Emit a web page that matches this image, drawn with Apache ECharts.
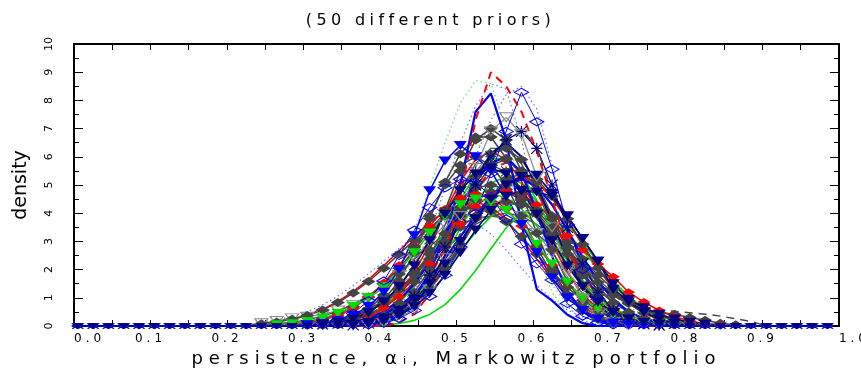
<!DOCTYPE html>
<html><head><meta charset="utf-8">
<script src="https://cdn.jsdelivr.net/npm/echarts/dist/echarts.min.js"></script>
<style>html,body{margin:0;padding:0;background:#fff}#c{width:861px;height:376px}</style>
</head><body><div id="c"></div>
<script>
// wide letter spacing like the original plotting font (by font size)
(function(){
  const P = CanvasRenderingContext2D.prototype;
  const orig = P.fillText;
  const SP = {'16':'4.4px','18':'6px','12':'4px'};
  P.fillText = function(t,x,y,w){
    if ('letterSpacing' in this) {
      const m = /(\d+(?:\.\d+)?)px/.exec(this.font);
      const s = m && SP[String(parseFloat(m[1]))];
      const prev = this.letterSpacing;
      this.letterSpacing = s || '0px';
      const r = (w === undefined) ? orig.call(this,t,x,y) : orig.call(this,t,x,y,w);
      this.letterSpacing = prev;
      return r;
    }
    return (w === undefined) ? orig.call(this,t,x,y) : orig.call(this,t,x,y,w);
  };
})();

// ---------------- data ----------------
const titleText = '(50 different priors)';
const xName = 'persistence, \u03b1\u1d62, Markowitz portfolio';
const yName = 'density';

// x grid: zero-density tails and the window where densities are non-zero
const xLeftTail = [0.005,0.025,0.045,0.065,0.085,0.105,0.125,0.145,0.165,0.185,0.205,0.225];
const xWindow = [0.245,0.265,0.285,0.305,0.325,0.345,0.365,0.385,0.405,0.425,0.445,0.465,0.485,0.505,0.525,0.545,0.565,0.585,0.605,0.625,0.645,0.665,0.685,0.705,0.725,0.745,0.765,0.785,0.805,0.825,0.845,0.865,0.885];
const xRightTail = [0.905,0.925,0.945,0.965,0.985];

// density values on xWindow, one array per prior
const dotB1 = [0,0,0,0,0,0.04,0.12,0.28,0.6,1.2,2.1,3.3,4.9,6.5,7.8,8.6,8.4,6.6,4.0,1.9,0.7,0.2,0.04,0,0,0,0,0,0,0,0,0,0];
const dotG1 = [0,0,0,0,0.04,0.12,0.28,0.6,1.2,2.1,3.4,4.9,6.5,7.9,8.7,8.6,7.0,4.7,2.6,1.2,0.44,0.13,0.04,0,0,0,0,0,0,0,0,0,0];
const dotB2 = [0,0,0,0,0,0,0.08,0.18,0.37,0.72,1.3,2.1,3.2,4.6,6.0,7.3,8.2,8.5,7.7,5.7,3.5,1.75,0.72,0.25,0.07,0,0,0,0,0,0,0,0];
const dotG2 = [0,0,0,0,0.06,0.12,0.22,0.4,0.68,1.1,1.6,2.3,3.0,3.8,4.4,4.85,5.0,4.85,4.4,3.8,3.0,2.3,1.6,1.1,0.68,0.4,0.22,0.12,0.06,0,0,0,0];
const dotB3 = [0.13,0.21,0.34,0.51,0.75,1.06,1.43,1.85,2.3,2.75,3.2,3.5,3.7,3.8,3.65,3.26,2.7,2.05,1.45,0.95,0.57,0.32,0.17,0.08,0.03,0,0,0,0,0,0,0,0];
const dotG3 = [0,0,0,0,0,0.05,0.14,0.35,0.76,1.47,2.5,3.8,5.1,6.1,6.5,6.1,5.1,3.8,2.5,1.47,0.76,0.35,0.14,0.05,0,0,0,0,0,0,0,0,0];
const dd1 = [0,0,0,0,0.03,0.1,0.22,0.47,0.92,1.6,2.6,3.8,5.1,6.1,6.7,6.7,5.95,4.7,3.3,2.0,1.12,0.55,0.24,0.09,0.03,0,0,0,0,0,0,0,0];
const dd2 = [0,0,0,0,0,0,0.05,0.13,0.3,0.6,1.1,1.8,2.8,3.9,4.9,5.7,5.9,5.5,4.8,3.8,2.8,1.9,1.1,0.6,0.3,0.13,0.05,0,0,0,0,0,0];
const dd3 = [0,0.04,0.08,0.15,0.25,0.43,0.68,1.03,1.5,2.05,2.7,3.4,4.0,4.5,4.9,5.0,4.85,4.5,4.0,3.4,2.75,2.1,1.55,1.1,0.8,0.6,0.48,0.42,0.3,0.2,0.1,0.04,0];
const dd4 = [0,0,0,0,0,0,0.06,0.15,0.32,0.65,1.2,2.0,3.0,4.2,5.3,6.1,6.3,5.9,5.1,3.9,2.8,1.8,1.1,0.6,0.28,0.12,0.05,0,0,0,0,0,0];
const dd5 = [0,0,0.035,0.07,0.13,0.22,0.37,0.6,0.9,1.31,1.8,2.38,2.97,3.5,3.9,4.3,4.4,4.3,4.1,3.5,2.97,2.38,1.8,1.31,0.9,0.6,0.37,0.22,0.13,0.07,0.035,0,0];
const dd6 = [0,0,0,0,0,0,0.05,0.11,0.24,0.46,0.82,1.34,2.06,2.9,3.8,4.6,5.2,5.4,5.2,4.6,3.8,2.9,2.06,1.34,0.82,0.46,0.24,0.11,0.05,0,0,0,0];
const dd7 = [0,0,0,0,0.05,0.13,0.29,0.59,1.1,1.84,2.8,3.9,5.0,5.7,6.0,5.7,5.0,3.9,2.8,1.84,1.1,0.59,0.29,0.13,0.05,0,0,0,0,0,0,0,0];
const dd8 = [0,0,0,0,0.08,0.15,0.28,0.5,0.83,1.28,1.87,2.55,3.27,3.95,4.47,4.76,4.76,4.47,3.95,3.27,2.55,1.87,1.28,0.83,0.5,0.28,0.15,0.08,0,0,0,0,0];
const dd9 = [0,0,0,0,0,0,0.06,0.15,0.38,0.82,1.58,2.7,4.1,5.5,6.6,7.0,6.6,5.5,4.1,2.7,1.58,0.82,0.38,0.15,0.06,0,0,0,0,0,0,0,0];
const dd10 = [0.08,0.14,0.24,0.37,0.57,0.83,1.17,1.58,2.05,2.55,3.05,3.5,3.9,4.1,4.2,4.07,3.7,3.17,2.55,1.92,1.37,0.91,0.57,0.34,0.18,0.1,0.05,0,0,0,0,0,0];
const dg1 = [0,0,0,0,0,0.05,0.12,0.25,0.48,0.85,1.39,2.13,3.0,3.96,4.8,5.4,5.6,5.4,4.8,3.96,3.0,2.13,1.39,0.85,0.48,0.25,0.12,0.05,0,0,0,0,0];
const dg2 = [0.04,0.08,0.13,0.22,0.35,0.53,0.77,1.08,1.46,1.9,2.37,2.83,3.26,3.6,3.82,3.9,3.82,3.6,3.26,2.83,2.37,1.9,1.46,1.08,0.77,0.53,0.35,0.22,0.13,0.08,0.04,0,0];
const dg3 = [0,0,0,0,0,0.03,0.09,0.2,0.44,0.86,1.52,2.45,3.58,4.76,5.75,6.3,6.3,5.75,4.76,3.58,2.45,1.52,0.86,0.44,0.2,0.09,0.03,0,0,0,0,0,0];
const dg4 = [0,0,0,0.06,0.12,0.2,0.34,0.54,0.82,1.19,1.64,2.16,2.7,3.2,3.6,3.9,4.0,3.9,3.6,3.2,2.7,2.16,1.64,1.19,0.82,0.54,0.34,0.2,0.12,0.06,0,0,0];
const dg5 = [0,0,0,0,0,0,0.05,0.11,0.23,0.44,0.79,1.29,1.98,2.8,3.68,4.46,5.0,5.2,4.96,4.3,3.4,2.44,1.59,0.95,0.51,0.25,0.11,0.05,0,0,0,0,0];
const ddash1 = [0,0,0,0,0.04,0.1,0.2,0.39,0.69,1.15,1.75,2.48,3.25,3.94,4.43,4.6,4.5,4.2,3.8,3.25,2.65,2.05,1.55,1.12,0.85,0.68,0.58,0.52,0.47,0.42,0.35,0.26,0.16];
const ddash2 = [0,0,0,0,0,0,0,0.06,0.15,0.34,0.69,1.27,2.14,3.28,4.57,5.8,6.7,7.0,6.34,4.72,2.88,1.44,0.6,0.2,0.06,0,0,0,0,0,0,0,0];
const rdash1 = [0,0,0,0,0,0,0,0,0,0.12,0.42,1.15,2.6,4.6,7.3,9.0,8.5,7.6,6.2,4.5,2.8,1.5,0.7,0.28,0.09,0,0,0,0,0,0,0,0];
const rdash2 = [0,0,0,0,0,0,0.05,0.13,0.28,0.57,1.06,1.77,2.72,3.79,4.8,5.53,5.8,5.53,4.8,3.79,2.72,1.77,1.06,0.57,0.28,0.13,0.05,0,0,0,0,0,0];
const rd1 = [0,0,0,0,0.05,0.11,0.21,0.38,0.65,1.04,1.56,2.2,2.9,3.62,4.24,4.65,4.8,4.65,4.3,3.8,3.2,2.7,2.2,1.75,1.2,0.85,0.55,0.33,0.18,0.08,0.03,0,0];
const rd2 = [0,0,0.05,0.11,0.21,0.37,0.63,1.02,1.53,2.15,2.85,3.55,4.15,4.55,4.7,4.55,4.15,3.55,2.85,2.15,1.53,1.02,0.63,0.37,0.21,0.11,0.05,0,0,0,0,0,0];
const r1 = [0,0,0,0,0,0.06,0.14,0.3,0.61,1.13,1.9,2.9,4.05,5.13,5.9,6.2,5.9,5.13,4.05,2.9,1.9,1.13,0.61,0.3,0.14,0.06,0,0,0,0,0,0,0];
const r2 = [0,0,0,0,0,0,0.05,0.11,0.23,0.45,0.8,1.32,2.02,2.86,3.75,4.54,5.1,5.3,5.1,4.54,3.75,2.86,2.02,1.32,0.8,0.45,0.23,0.11,0.05,0,0,0,0];
const r3 = [0.09,0.15,0.25,0.39,0.59,0.87,1.22,1.65,2.14,2.67,3.19,3.67,4.06,4.31,4.4,4.23,3.77,3.11,2.37,1.68,1.1,0.66,0.37,0.19,0.09,0.04,0,0,0,0,0,0,0];
const gt1 = [0,0.04,0.08,0.16,0.28,0.45,0.7,1.0,1.4,2.0,2.6,3.3,3.9,4.3,4.5,4.4,4.1,3.6,2.9,2.2,1.55,1.0,0.6,0.33,0.17,0.08,0.03,0,0,0,0,0,0];
const g1 = [0,0,0,0,0,0.05,0.1,0.19,0.35,0.59,0.95,1.43,2.02,2.67,3.32,3.88,4.26,4.4,4.26,3.88,3.32,2.67,2.02,1.43,0.95,0.59,0.35,0.19,0.1,0.05,0,0,0];
const g2 = [0,0,0,0,0,0,0.05,0.12,0.25,0.52,0.96,1.62,2.49,3.46,4.39,5.06,5.3,5.06,4.39,3.46,2.49,1.62,0.96,0.52,0.25,0.12,0.05,0,0,0,0,0,0];
const g3 = [0,0,0,0,0.04,0.1,0.21,0.4,0.71,1.17,1.79,2.53,3.32,4.03,4.52,4.7,4.55,4.15,3.55,2.85,2.15,1.53,1.02,0.63,0.37,0.21,0.11,0.05,0,0,0,0,0];
const g4 = [0,0,0,0,0,0.03,0.08,0.19,0.41,0.81,1.43,2.3,3.36,4.46,5.39,5.93,5.93,5.39,4.46,3.36,2.3,1.43,0.81,0.41,0.19,0.08,0.03,0,0,0,0,0,0];
const g5 = [0,0,0,0,0,0,0,0,0.04,0.09,0.2,0.41,0.76,1.29,1.97,2.74,3.48,4.0,4.2,4.04,3.6,2.97,2.26,1.6,1.05,0.63,0.36,0.18,0.09,0.04,0,0,0];
const b1 = [0,0,0,0,0,0,0,0.06,0.18,0.45,1.0,1.9,3.2,5.0,7.6,8.25,6.6,3.6,1.3,0.9,0.4,0.1,0,0,0,0,0,0,0,0,0,0,0];
const bt1 = [0,0,0,0.04,0.09,0.19,0.38,0.7,1.2,2.0,3.2,4.8,5.85,6.4,6.0,5.5,4.6,3.6,2.6,1.7,1.0,0.55,0.25,0.1,0.04,0,0,0,0,0,0,0,0];
const bd1 = [0,0,0,0,0,0,0,0.04,0.1,0.26,0.55,1.05,1.8,2.8,4.0,5.4,6.9,8.29,7.24,5.56,3.6,2.0,0.95,0.4,0.15,0.05,0,0,0,0,0,0,0];
const bd2 = [0,0,0,0.03,0.08,0.2,0.45,0.9,1.6,2.5,3.4,4.2,4.9,5.2,5.1,4.6,3.8,2.9,2.2,1.63,0.8,0.35,0.12,0.04,0,0,0,0,0,0,0,0,0];
const b2 = [0,0,0,0,0,0.05,0.13,0.26,0.51,0.91,1.49,2.29,3.23,4.24,5.14,5.77,6.0,5.44,4.04,2.47,1.24,0.51,0.17,0.05,0,0,0,0,0,0,0,0,0];
const b3 = [0,0,0,0,0,0.06,0.12,0.23,0.42,0.7,1.12,1.69,2.38,3.16,3.93,4.59,5.04,5.2,4.96,4.3,3.4,2.44,1.59,0.95,0.51,0.25,0.11,0.05,0,0,0,0,0];
const nt1 = [0,0,0,0,0,0,0.05,0.13,0.28,0.55,0.95,1.5,2.2,3.0,3.8,4.5,5.0,5.3,5.35,4.7,3.9,3.1,2.3,1.3,0.86,0.5,0.25,0.1,0,0,0,0,0];
const nt2 = [0,0,0,0,0.05,0.12,0.25,0.48,0.85,1.39,2.13,3.02,3.96,4.8,5.39,5.6,5.39,4.8,3.96,3.02,2.13,1.39,0.85,0.48,0.25,0.12,0.05,0,0,0,0,0,0];
const nt3 = [0,0,0,0,0,0,0.03,0.08,0.18,0.37,0.68,1.15,1.8,2.6,3.4,4.1,4.6,4.8,4.75,4.6,3.9,3.1,2.3,1.5,0.95,0.65,0.42,0.25,0.13,0.06,0,0,0];
const nt4 = [0,0,0,0,0,0,0,0.05,0.14,0.35,0.76,1.47,2.51,3.8,5.12,6.12,6.5,6.0,5.0,3.7,2.4,1.4,0.72,0.33,0.13,0.05,0,0,0,0,0,0,0];
const nx1 = [0,0,0,0,0,0,0.04,0.1,0.26,0.55,1.05,1.8,2.8,3.9,5.0,6.0,6.6,6.9,6.3,5.0,3.5,2.2,1.2,0.55,0.22,0.08,0.03,0,0,0,0,0,0];
const nx2 = [0,0,0,0,0.05,0.12,0.25,0.48,0.86,1.42,2.17,3.07,4.03,4.88,5.48,5.7,5.48,4.88,4.03,3.07,2.17,1.42,0.86,0.48,0.25,0.12,0.05,0,0,0,0,0,0];
const gto1 = [0,0,0,0,0,0,0,0.03,0.1,0.26,0.62,1.3,2.4,3.9,5.6,6.9,7.4,6.8,5.3,3.5,2.0,0.95,0.4,0.14,0.04,0,0,0,0,0,0,0,0];
const gto2 = [0.1,0.18,0.27,0.33,0.41,0.55,0.75,1.0,1.35,1.8,2.4,3.0,3.6,4.1,4.4,4.5,4.3,3.9,3.3,2.6,1.9,1.3,0.8,0.45,0.22,0.1,0.04,0,0,0,0,0,0];

// ---------------- styles (kept apart from the data) ----------------
const NAVY = '#000080', BLUE = '#0000ff', RED = '#ff0000', GREEN = '#00dd00', DGRAY = '#444444';
const STAR = 'path://M0,0L10,10M10,0L0,10M5,0L5,10M0,5L10,5';
const STY = {
  dotB:  {line: '#6f6fff', type: [1.5, 3], width: 1.2, symbol: 'none'},
  dotG:  {line: '#66e066', type: [1.5, 3], width: 1.2, symbol: 'none'},
  dd:    {line: DGRAY, type: 'solid', width: 1.5, symbol: 'diamond', size: [14, 9], fill: DGRAY},
  dg:    {line: '#505050', type: 'solid', width: 1.4, symbol: 'none'},
  ddash: {line: DGRAY, type: [8, 6], width: 1.5, symbol: 'none'},
  rdash: {line: RED, type: [8, 6], width: 2, symbol: 'none'},
  rd:    {line: RED, type: 'solid', width: 1.5, symbol: 'diamond', size: [13, 8], fill: RED},
  r:     {line: RED, type: 'solid', width: 1.6, symbol: 'none'},
  gt:    {line: GREEN, type: 'solid', width: 1.5, symbol: 'triangle', size: [13, 9], rot: 180, fill: GREEN},
  g:     {line: GREEN, type: 'solid', width: 1.6, symbol: 'none'},
  b:     {line: BLUE, type: 'solid', width: 2.2, symbol: 'none'},
  bt:    {line: BLUE, type: 'solid', width: 1.5, symbol: 'triangle', size: [13, 9], rot: 180, fill: BLUE},
  bd:    {line: BLUE, type: 'solid', width: 1, symbol: 'diamond', size: [14, 8], stroke: BLUE, fill: 'none'},
  nt:    {line: NAVY, type: 'solid', width: 1.6, symbol: 'triangle', size: [13, 9], rot: 180, fill: NAVY},
  n:     {line: NAVY, type: 'solid', width: 2, symbol: 'none'},
  nx:    {line: NAVY, type: 'solid', width: 1.2, symbol: STAR, size: 11, stroke: NAVY, fill: 'none'},
  kx:    {line: '#303030', type: 'solid', width: 1.2, symbol: STAR, size: 10, stroke: '#303030', fill: 'none'},
  gto:   {line: '#8a8a8a', type: 'solid', width: 1.2, symbol: 'triangle', size: [13, 9], rot: 180, stroke: '#8a8a8a', fill: 'none'}
};
const BASE_SYMBOL = [11, 5];   // markers sitting on the zero line look half-hidden in the original

// drawing order (first drawn at the bottom)
const layers = [
  ['dotB3', dotB3, 'dotB'], ['dotG2', dotG2, 'dotG'], ['dotB1', dotB1, 'dotB'], ['dotG1', dotG1, 'dotG'],
  ['dotB2', dotB2, 'dotB'], ['dotG3', dotG3, 'dotG'], ['gto2', gto2, 'gto'], ['dg2', dg2, 'dg'],
  ['dg4', dg4, 'dg'], ['g1', g1, 'g'], ['g5', g5, 'g'], ['r3', r3, 'r'], ['dg1', dg1, 'dg'],
  ['g3', g3, 'g'], ['r2', r2, 'r'], ['dd5', dd5, 'dd'], ['dd10', dd10, 'dd'], ['dd8', dd8, 'dd'],
  ['dd3', dd3, 'dd'], ['rd2', rd2, 'rd'], ['rd1', rd1, 'rd'], ['ddash1', ddash1, 'ddash'],
  ['g2', g2, 'g'], ['g4', g4, 'g'], ['r1', r1, 'r'], ['dg3', dg3, 'dg'], ['dg5', dg5, 'dg'],
  ['dd1', dd1, 'dd'], ['dd2', dd2, 'dd'], ['dd4', dd4, 'dd'], ['dd6', dd6, 'dd'], ['dd7', dd7, 'dd'],
  ['dd9', dd9, 'dd'], ['rdash2', rdash2, 'rdash'], ['gt1', gt1, 'gt'], ['bd2', bd2, 'bd'],
  ['b3', b3, 'b'], ['b2', b2, 'b'], ['nx2', nx2, 'kx'], ['nx1', nx1, 'nx'], ['ddash2', ddash2, 'ddash'],
  ['gto1', gto1, 'gto'], ['bd1', bd1, 'bd'], ['bt1', bt1, 'bt'], ['b1', b1, 'b'], ['rdash1', rdash1, 'rdash'],
  ['nt4', nt4, 'n'], ['nt1', nt1, 'nt'], ['nt3', nt3, 'nt'], ['nt2', nt2, 'nt']
];

function buildData(vals) {
  return xLeftTail.map(x => [x, 0])
    .concat(xWindow.map((x, i) => [x, vals[i]]))
    .concat(xRightTail.map(x => [x, 0]));
}

const series = layers.map(([name, vals, key]) => {
  const s = STY[key];
  const full = s.size || 8;
  return {
    type: 'line', name, data: buildData(vals),
    symbol: s.symbol, showSymbol: s.symbol !== 'none',
    symbolSize: v => (v[1] > 0 ? full : BASE_SYMBOL), symbolRotate: s.rot || 0,
    lineStyle: {color: s.line, width: s.width, type: s.type},
    itemStyle: {color: s.fill || s.line, borderColor: s.stroke || s.line, borderWidth: s.stroke ? 1.1 : 0},
    emphasis: {disabled: true}, silent: true, animation: false, clip: true
  };
});

const AX = {color: '#000', width: 2};
const FONT = "'DejaVu Sans', sans-serif";
const option = {
  backgroundColor: '#fff',
  animation: false,
  title: {text: titleText, left: 'center', top: 8,
    textStyle: {fontFamily: FONT, fontSize: 16, fontWeight: 'normal', color: '#000'}},
  grid: {left: 74, right: 17, top: 44, bottom: 50, containLabel: false},
  xAxis: [
    {type: 'value', min: 0, max: 1, interval: 0.1, position: 'bottom',
     axisLine: {show: true, onZero: false, lineStyle: AX},
     axisTick: {show: true, inside: true, length: 6, lineStyle: {color: '#000', width: 1}},
     minorTick: {show: true, splitNumber: 2, length: 6, lineStyle: {color: '#000', width: 1}},
     splitLine: {show: false}, minorSplitLine: {show: false},
     axisLabel: {color: '#000', fontFamily: FONT, fontSize: 12, margin: 7,
       formatter: v => v.toFixed(1), alignMinLabel: 'left', alignMaxLabel: 'left'},
     name: xName, nameLocation: 'middle', nameGap: 24,
     nameTextStyle: {color: '#000', fontFamily: FONT, fontSize: 18}},
    {type: 'value', min: 0, max: 1, interval: 0.1, position: 'top',
     axisLine: {show: true, onZero: false, lineStyle: AX},
     axisTick: {show: true, inside: true, length: 6, lineStyle: {color: '#000', width: 1}},
     minorTick: {show: true, splitNumber: 2, length: 6, lineStyle: {color: '#000', width: 1}},
     splitLine: {show: false}, axisLabel: {show: false}}
  ],
  yAxis: [
    {type: 'value', min: 0, max: 10, interval: 1, position: 'left',
     axisLine: {show: true, onZero: false, lineStyle: AX},
     axisTick: {show: true, inside: true, length: 9, lineStyle: {color: '#000', width: 1}},
     minorTick: {show: true, splitNumber: 2, length: 5, lineStyle: {color: '#000', width: 1}},
     splitLine: {show: false},
     axisLabel: {color: '#000', fontFamily: FONT, fontSize: 11, rotate: 90, margin: 19},
     name: yName, nameLocation: 'middle', nameGap: 43, nameRotate: 90,
     nameTextStyle: {color: '#000', fontFamily: FONT, fontSize: 19}},
    {type: 'value', min: 0, max: 10, interval: 1, position: 'right',
     axisLine: {show: true, onZero: false, lineStyle: AX},
     axisTick: {show: true, inside: true, length: 9, lineStyle: {color: '#000', width: 1}},
     minorTick: {show: true, splitNumber: 2, length: 5, lineStyle: {color: '#000', width: 1}},
     splitLine: {show: false}, axisLabel: {show: false}}
  ],
  series
};

const chart = echarts.init(document.getElementById('c'), null, {renderer: 'canvas'});
chart.setOption(option);
</script>
</body></html>
